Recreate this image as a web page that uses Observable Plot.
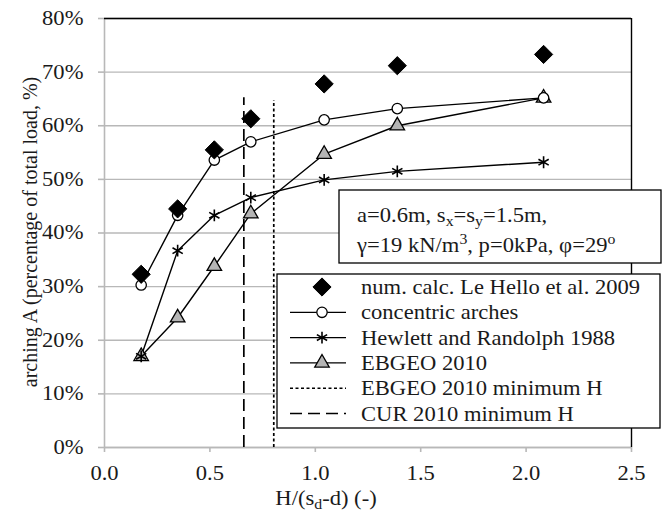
<!DOCTYPE html>
<html><head><meta charset="utf-8">
<script src="https://cdn.jsdelivr.net/npm/d3@7"></script>
<script src="https://cdn.jsdelivr.net/npm/@observablehq/plot@0.6"></script>
<style>
body{margin:0;background:#fff;}
#chart{position:relative;width:668px;height:512px;}
#chart svg text{font-family:"Liberation Serif","Times New Roman",serif !important;}
</style></head><body><div id="chart"></div>
<script>
// ---- data ----
const hValues = [0.174, 0.347, 0.521, 0.694, 1.042, 1.389, 2.083];
const numCalc = [32.3, 44.5, 55.5, 61.3, 67.8, 71.2, 73.3];
const concentric = [30.3, 43.3, 53.6, 57.0, 61.1, 63.2, 65.2];
const hewlett = [17.0, 36.7, 43.3, 46.6, 49.9, 51.5, 53.2];
const ebgeo = [17.0, 24.2, 33.8, 43.6, 54.7, 60.0, 65.2];
const minHNames = ["EBGEO 2010 minimum H", "CUR 2010 minimum H"];
const minHValues = [0.803, 0.661];
const minHTop = [64.7, 65.2];
const seriesNames = ["num. calc. Le Hello et al. 2009", "concentric arches", "Hewlett and Randolph 1988", "EBGEO 2010"];
const xTicks = [0, 0.5, 1.0, 1.5, 2.0, 2.5];
const yTicks = [0, 10, 20, 30, 40, 50, 60, 70, 80];
const xLabel = ["H/(s", "d", "-d) (-)"];
const yLabel = "arching A (percentage of total load, %)";
const noteLines = [
  [["a=0.6m, s",""],["x","sub"],["=s",""],["y","sub"],["=1.5m,",""]],
  [["γ=19 kN/m",""],["3","sup"],[", p=0kPa, φ=29",""],["o","sup"]]
];

// ---- build tables ----
const pts = (vals, name) => hValues.map((x, i) => ({x, y: vals[i], name}));
const sNum = pts(numCalc, seriesNames[0]);
const sCon = pts(concentric, seriesNames[1]);
const sHew = pts(hewlett, seriesNames[2]);
const sEbg = pts(ebgeo, seriesNames[3]);
const rules = minHNames.map((n, i) => ({name: n, x: minHValues[i], top: minHTop[i]}));

const FONT = "'Liberation Serif', 'Times New Roman', serif";
const GRID = "#b8b8b8";
const LW = 1.4;
const SX = 1.13; // horizontal stretch of the text in the reference
const R_DIAMOND = 8.2, R_CIRCLE = 5.2, R_STAR = 5.6, R_TRI = 5.4;
const TRI_FILL = "#b4b4b4";
const DASH_SHORT = "3,2.5", DASH_LONG = "12,6";

const plot = Plot.plot({
  width: 668, height: 512,
  marginLeft: 104, marginRight: 37, marginTop: 18, marginBottom: 65,
  style: {fontFamily: FONT, fontSize: "20px", color: "#1a1a1a", background: "#fff"},
  x: {domain: [0, 2.5], label: null},
  y: {domain: [0, 80], label: null},
  marks: [
    Plot.gridY(yTicks, {stroke: GRID, strokeOpacity: 1, strokeWidth: 1.4}),
    Plot.ruleY([0], {stroke: GRID, strokeWidth: 1.6}),
    Plot.ruleX([0], {stroke: GRID, strokeWidth: 1.6}),
    Plot.axisY(yTicks, {tickSize: 6, tickPadding: 15, tickFormat: d => d + "%", label: null, fontSize: 20}),
    Plot.axisX(xTicks, {tickSize: 5, tickPadding: 13, tickFormat: d => d.toFixed(1), label: null, fontSize: 20}),
    Plot.ruleY([80], {stroke: "#000", strokeWidth: 1.4}),
    Plot.ruleX([2.5], {stroke: "#000", strokeWidth: 1.4}),
    Plot.ruleX([rules[0]], {x: "x", y1: 0, y2: "top", stroke: "#000", strokeWidth: 1.7, strokeDasharray: DASH_SHORT}),
    Plot.ruleX([rules[1]], {x: "x", y1: 0, y2: "top", stroke: "#000", strokeWidth: 1.7, strokeDasharray: DASH_LONG}),
    Plot.line(sCon, {x: "x", y: "y", stroke: "#000", strokeWidth: LW}),
    Plot.line(sHew, {x: "x", y: "y", stroke: "#000", strokeWidth: LW}),
    Plot.line(sEbg, {x: "x", y: "y", stroke: "#000", strokeWidth: LW}),
    Plot.dot(sEbg, {x: "x", y: "y", symbol: "triangle", r: R_TRI, fill: TRI_FILL, stroke: "#000", strokeWidth: 1.3}),
    Plot.dot(sHew, {x: "x", y: "y", symbol: "asterisk", r: R_STAR, stroke: "#000", strokeWidth: 1.6}),
    Plot.dot(sCon, {x: "x", y: "y", symbol: "circle", r: R_CIRCLE, fill: "#fff", stroke: "#000", strokeWidth: 1.3}),
    Plot.dot(sNum, {x: "x", y: "y", symbol: "diamond2", r: R_DIAMOND, fill: "#000", stroke: "#000", strokeWidth: 1})
  ]
});
document.getElementById("chart").appendChild(plot);

const svg = d3.select(plot);
svg.selectAll("[aria-label='y-axis tick'] path, [aria-label='x-axis tick'] path").attr("stroke", GRID).attr("stroke-width", 1.6);
svg.selectAll("[aria-label='y-axis tick label'] text, [aria-label='x-axis tick label'] text")
  .attr("fill", "#1a1a1a")
  .attr("transform", function() { return (this.getAttribute("transform") || "") + ` scale(${SX},1)`; });

const T = svg.append("g").attr("font-family", FONT).attr("fill", "#1a1a1a").attr("text-anchor", "start");

// axis titles
const xt = T.append("text").attr("transform", `translate(326,505) scale(${SX},1)`).attr("text-anchor", "middle").attr("font-size", 20);
xt.append("tspan").text(xLabel[0]);
xt.append("tspan").attr("font-size", 14).attr("dy", 4).text(xLabel[1]);
xt.append("tspan").attr("dy", -4).text(xLabel[2]);
T.append("text").attr("transform", "translate(37,232) rotate(-90)").attr("text-anchor", "middle").attr("font-size", 20).text(yLabel);

// annotation box
T.append("rect").attr("x", 339).attr("y", 190).attr("width", 322).attr("height", 73).attr("fill", "#fff").attr("stroke", "#000").attr("stroke-width", 1.3);
noteLines.forEach((line, i) => {
  const t = T.append("text").attr("transform", `translate(357,${222 + i * 30}) scale(${SX},1)`).attr("font-size", 20);
  let shift = 0;
  line.forEach(([s, kind]) => {
    const ts = t.append("tspan").text(s);
    const target = kind === "sub" ? 4 : kind === "sup" ? -8 : 0;
    if (kind) ts.attr("font-size", 14);
    ts.attr("dy", target - shift);
    shift = target;
  });
});

// legend
const lg = T.append("g");
lg.append("rect").attr("x", 277).attr("y", 274).attr("width", 383).attr("height", 154).attr("fill", "#fff").attr("stroke", "#000").attr("stroke-width", 1.3);
const rowY = i => 287 + i * 25.3;
const sx0 = 290, sx1 = 346, sxc = 322, tx = 361;
const area = r => Math.PI * r * r;
const legendItems = [
  {name: seriesNames[0], line: false, sym: d3.symbolDiamond2, r: R_DIAMOND, fill: "#000", sw: 1},
  {name: seriesNames[1], line: true, sym: d3.symbolCircle, r: R_CIRCLE, fill: "#fff", sw: 1.3},
  {name: seriesNames[2], line: true, sym: d3.symbolAsterisk, r: R_STAR, fill: "none", sw: 1.6},
  {name: seriesNames[3], line: true, sym: d3.symbolTriangle, r: R_TRI, fill: TRI_FILL, sw: 1.3},
  {name: minHNames[0], line: true, dash: DASH_SHORT},
  {name: minHNames[1], line: true, dash: DASH_LONG}
];
legendItems.forEach((it, i) => {
  const y = rowY(i);
  if (it.line) lg.append("line").attr("x1", sx0).attr("x2", sx1).attr("y1", y).attr("y2", y)
    .attr("stroke", "#000").attr("stroke-width", it.dash ? 1.6 : 1.3).attr("stroke-dasharray", it.dash || null);
  if (it.sym) lg.append("path").attr("transform", `translate(${sxc},${y})`)
    .attr("d", d3.symbol(it.sym, area(it.r))()).attr("fill", it.fill).attr("stroke", "#000").attr("stroke-width", it.sw);
  lg.append("text").attr("transform", `translate(${tx},${y + 7}) scale(${SX},1)`).attr("font-size", 20).text(it.name);
});
</script></body></html>
